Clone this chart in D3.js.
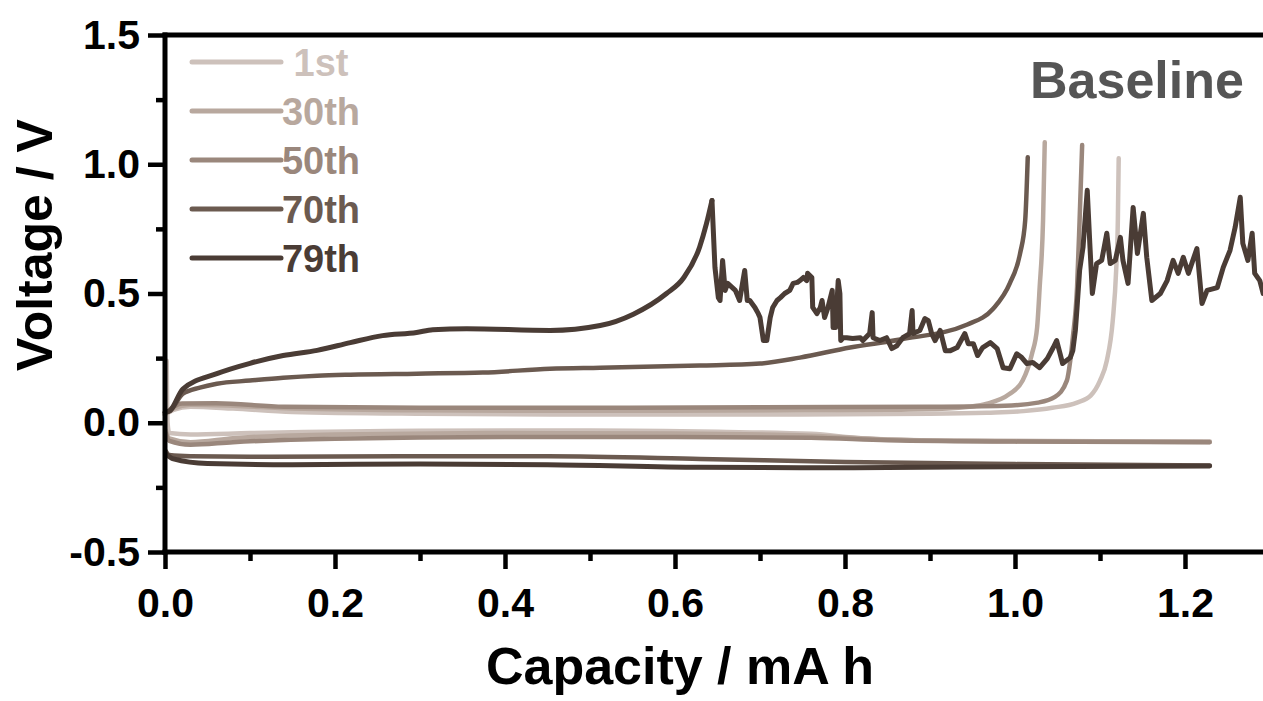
<!DOCTYPE html>
<html><head><meta charset="utf-8">
<script src="https://cdn.jsdelivr.net/npm/d3@7"></script>
<style>
html,body{margin:0;padding:0;background:#fff;overflow:hidden}
text{font-family:"Liberation Sans",Arial,sans-serif;font-weight:bold}
</style></head>
<body>
<svg id="chart" width="1263" height="701"></svg>
<script>
// ---- data (capacity mA h, voltage V) ----
const seriesNames = ["1st","30th","50th","70th","79th"];
const seriesColors = ["#cdc1bb","#b8a89e","#9a877c","#6b5a50","#4a3c35"];

const charge1st = [[0,0.03],[0.01,0.05],[0.03,0.062],[0.08,0.055],[0.15,0.042],[0.3,0.035],[0.5,0.032],[0.7,0.032],[0.9,0.035],[0.967,0.039],[1.01,0.045],[1.044,0.058],[1.073,0.078],[1.089,0.105],[1.1,0.163],[1.108,0.24],[1.115,0.395],[1.119,0.589],[1.121,0.783],[1.122,1.023]];
const discharge1st = [[0.002,0.24],[0.003,0.0],[0.005,-0.04],[0.03,-0.045],[0.1,-0.04],[0.3,-0.031],[0.5,-0.03],[0.65,-0.035],[0.76,-0.043],[0.82,-0.06],[0.9,-0.068],[1.0,-0.07],[1.1,-0.072],[1.229,-0.072]];

const charge30th = [[0,0.03],[0.01,0.055],[0.03,0.07],[0.08,0.066],[0.15,0.055],[0.3,0.048],[0.5,0.046],[0.7,0.047],[0.85,0.05],[0.92,0.055],[0.946,0.062],[0.967,0.074],[0.993,0.11],[1.009,0.163],[1.02,0.267],[1.026,0.368],[1.029,0.523],[1.033,0.783],[1.035,1.085]];
const discharge30th = [[0.001,-0.03],[0.005,-0.06],[0.03,-0.075],[0.08,-0.06],[0.2,-0.045],[0.4,-0.04],[0.6,-0.042],[0.76,-0.05],[0.85,-0.065],[1.0,-0.072],[1.229,-0.074]];

const charge50th = [[0,0.035],[0.02,0.074],[0.06,0.075],[0.14,0.062],[0.3,0.058],[0.5,0.058],[0.7,0.06],[0.9,0.062],[0.988,0.066],[1.027,0.078],[1.047,0.1],[1.061,0.163],[1.065,0.24],[1.068,0.329],[1.073,0.523],[1.076,0.783],[1.079,1.074]];
const discharge50th = [[0.001,-0.04],[0.005,-0.07],[0.03,-0.085],[0.08,-0.075],[0.2,-0.062],[0.4,-0.055],[0.6,-0.055],[0.76,-0.058],[0.85,-0.068],[1.0,-0.073],[1.229,-0.075]];

const charge70th = [[0,0.04],[0.006,0.047],[0.021,0.112],[0.041,0.136],[0.061,0.151],[0.1,0.163],[0.139,0.174],[0.179,0.182],[0.218,0.186],[0.296,0.19],[0.374,0.194],[0.453,0.209],[0.512,0.213],[0.629,0.221],[0.7,0.229],[0.747,0.252],[0.806,0.291],[0.865,0.322],[0.944,0.38],[0.974,0.44],[0.994,0.54],[1.006,0.655],[1.012,0.783],[1.015,1.027]];
const discharge70th = [[0.001,-0.11],[0.005,-0.125],[0.03,-0.13],[0.1,-0.132],[0.3,-0.13],[0.45,-0.13],[0.63,-0.14],[0.8,-0.152],[1.0,-0.16],[1.229,-0.165]];

const charge79thSmooth = [[0,0.04],[0.006,0.047],[0.021,0.13],[0.061,0.19],[0.1,0.23],[0.139,0.26],[0.179,0.28],[0.218,0.31],[0.256,0.337],[0.296,0.349],[0.315,0.36],[0.355,0.364],[0.453,0.357],[0.512,0.376],[0.551,0.42],[0.59,0.5],[0.61,0.56],[0.629,0.68],[0.637,0.77],[0.6435,0.86]];
const charge79thNoisy = [[0.6435,0.86],[0.647,0.601],[0.651,0.484],[0.653,0.473],[0.656,0.628],[0.659,0.512],[0.662,0.539],[0.671,0.512],[0.676,0.473],[0.682,0.589],[0.685,0.473],[0.688,0.473],[0.694,0.446],[0.698,0.422],[0.700,0.407],[0.704,0.318],[0.708,0.318],[0.712,0.407],[0.715,0.446],[0.720,0.473],[0.724,0.484],[0.729,0.5],[0.735,0.512],[0.739,0.539],[0.744,0.543],[0.747,0.55],[0.751,0.562],[0.755,0.55],[0.756,0.578],[0.761,0.562],[0.762,0.446],[0.767,0.422],[0.771,0.446],[0.773,0.473],[0.776,0.407],[0.780,0.446],[0.785,0.512],[0.786,0.368],[0.789,0.368],[0.792,0.55],[0.794,0.5],[0.795,0.318],[0.798,0.329],[0.802,0.329],[0.809,0.326],[0.818,0.329],[0.821,0.318],[0.829,0.345],[0.832,0.426],[0.833,0.329],[0.841,0.318],[0.849,0.329],[0.855,0.287],[0.861,0.298],[0.868,0.329],[0.876,0.345],[0.879,0.434],[0.880,0.345],[0.888,0.357],[0.894,0.403],[0.898,0.395],[0.902,0.345],[0.906,0.318],[0.912,0.357],[0.918,0.279],[0.924,0.279],[0.932,0.291],[0.941,0.345],[0.945,0.306],[0.951,0.306],[0.956,0.26],[0.962,0.291],[0.971,0.31],[0.979,0.287],[0.986,0.213],[0.994,0.209],[1.002,0.267],[1.008,0.252],[1.014,0.229],[1.021,0.233],[1.029,0.213],[1.038,0.248],[1.045,0.291],[1.049,0.318],[1.053,0.267],[1.056,0.229],[1.065,0.252],[1.068,0.279],[1.071,0.357],[1.073,0.446],[1.076,0.589],[1.080,0.678],[1.085,0.899],[1.088,0.694],[1.091,0.5],[1.096,0.616],[1.102,0.628],[1.108,0.733],[1.112,0.616],[1.118,0.628],[1.124,0.717],[1.127,0.628],[1.133,0.539],[1.139,0.833],[1.144,0.655],[1.151,0.81],[1.155,0.64],[1.161,0.473],[1.171,0.5],[1.179,0.55],[1.186,0.628],[1.192,0.578],[1.198,0.64],[1.204,0.578],[1.214,0.674],[1.220,0.461],[1.226,0.512],[1.238,0.523],[1.245,0.601],[1.253,0.667],[1.259,0.756],[1.265,0.872],[1.268,0.694],[1.274,0.628],[1.279,0.733],[1.282,0.578],[1.288,0.55],[1.292,0.5],[1.298,0.53]];
const discharge79th = [[0.001,-0.12],[0.01,-0.14],[0.05,-0.158],[0.15,-0.162],[0.3,-0.16],[0.45,-0.162],[0.63,-0.172],[0.8,-0.174],[1.0,-0.17],[1.229,-0.167]];

const xMajorTicks = [0,0.2,0.4,0.6,0.8,1.0,1.2];
const xTickLabels = ["0.0","0.2","0.4","0.6","0.8","1.0","1.2"];
const xMinorTicks = [0.1,0.3,0.5,0.7,0.9,1.1];
const yMajorTicks = [-0.5,0,0.5,1.0,1.5];
const yTickLabels = ["-0.5","0.0","0.5","1.0","1.5"];
const yMinorTicks = [-0.25,0.25,0.75,1.25];

// ---- drawing ----
const svg = d3.select("#chart");
svg.append("rect").attr("width",1263).attr("height",701).attr("fill","#fff");

const x = d3.scaleLinear().domain([0,1.3]).range([165,1270]);
const y = d3.scaleLinear().domain([-0.5,1.5]).range([552,35]);

const smooth = d3.line().x(d=>x(d[0])).y(d=>y(d[1])).curve(d3.curveMonotoneX);
const jag = d3.line().x(d=>x(d[0])).y(d=>y(d[1])).curve(d3.curveLinear);

const curves = [
  {data:discharge1st, c:0, gen:smooth},{data:charge1st, c:0, gen:smooth},
  {data:discharge30th, c:1, gen:smooth},{data:charge30th, c:1, gen:smooth},
  {data:discharge50th, c:2, gen:smooth},{data:charge50th, c:2, gen:smooth},
  {data:discharge70th, c:3, gen:smooth},{data:charge70th, c:3, gen:smooth},
  {data:discharge79th, c:4, gen:smooth},{data:charge79thSmooth, c:4, gen:smooth},
  {data:charge79thNoisy, c:4, gen:jag}
];
const gLines = svg.append("g");
curves.forEach(k=>{
  gLines.append("path").attr("d",k.gen(k.data)).attr("fill","none")
    .attr("stroke",seriesColors[k.c]).attr("stroke-width",k.c===4?5:4.5)
    .attr("stroke-linejoin","round").attr("stroke-linecap","round");
});

// axes
const axB = svg.append("g").attr("transform","translate(0,552)")
  .call(d3.axisBottom(x).tickValues(xMajorTicks).tickSize(17).tickFormat((d,i)=>xTickLabels[i]).tickPadding(19));
const axBm = svg.append("g").attr("transform","translate(0,552)")
  .call(d3.axisBottom(x).tickValues(xMinorTicks).tickSize(9).tickFormat(""));
const axL = svg.append("g").attr("transform","translate(165,0)")
  .call(d3.axisLeft(y).tickValues(yMajorTicks).tickSize(17).tickFormat((d,i)=>yTickLabels[i]).tickPadding(8));
const axLm = svg.append("g").attr("transform","translate(165,0)")
  .call(d3.axisLeft(y).tickValues(yMinorTicks).tickSize(9).tickFormat(""));
[axB,axBm,axL,axLm].forEach(a=>{
  a.select(".domain").remove();
  a.selectAll(".tick line").attr("stroke","#000").attr("stroke-width",4.5);
  a.selectAll(".tick text").attr("fill","#000").style("font-size","41px").style("font-family","'Liberation Sans',Arial,sans-serif").style("font-weight","bold");
});
axB.selectAll(".tick text").attr("dy","0.71em");

// frame
const frame = svg.append("g").attr("stroke","#000").attr("stroke-width",5).attr("fill","none");
frame.append("line").attr("x1",165).attr("x2",165).attr("y1",y(1.5)-2.5).attr("y2",y(-0.5)+2.5);
frame.append("line").attr("x1",162.5).attr("x2",1275).attr("y1",y(-0.5)).attr("y2",y(-0.5));
frame.append("line").attr("x1",162.5).attr("x2",1275).attr("y1",y(1.5)).attr("y2",y(1.5));

// titles
svg.append("text").attr("x",680).attr("y",684).attr("text-anchor","middle")
  .style("font-size","52px").attr("fill","#000").text("Capacity / mA h");
svg.append("text").attr("transform","translate(52,245) rotate(-90)").attr("text-anchor","middle")
  .style("font-size","50px").attr("fill","#000").text("Voltage / V");
svg.append("text").attr("x",1030).attr("y",98).style("font-size","52px").attr("fill","#555555").text("Baseline");

// legend
const legY0 = 62, legStep = 49;
seriesNames.forEach((n,i)=>{
  const yy = legY0 + i*legStep;
  svg.append("line").attr("x1",192).attr("x2",281).attr("y1",yy).attr("y2",yy)
    .attr("stroke",seriesColors[i]).attr("stroke-width",5).attr("stroke-linecap","round");
  svg.append("text").attr("x",321).attr("y",yy+14).attr("text-anchor","middle").style("font-size","38px")
    .attr("fill",seriesColors[i]).text(n);
});
</script>
</body></html>
